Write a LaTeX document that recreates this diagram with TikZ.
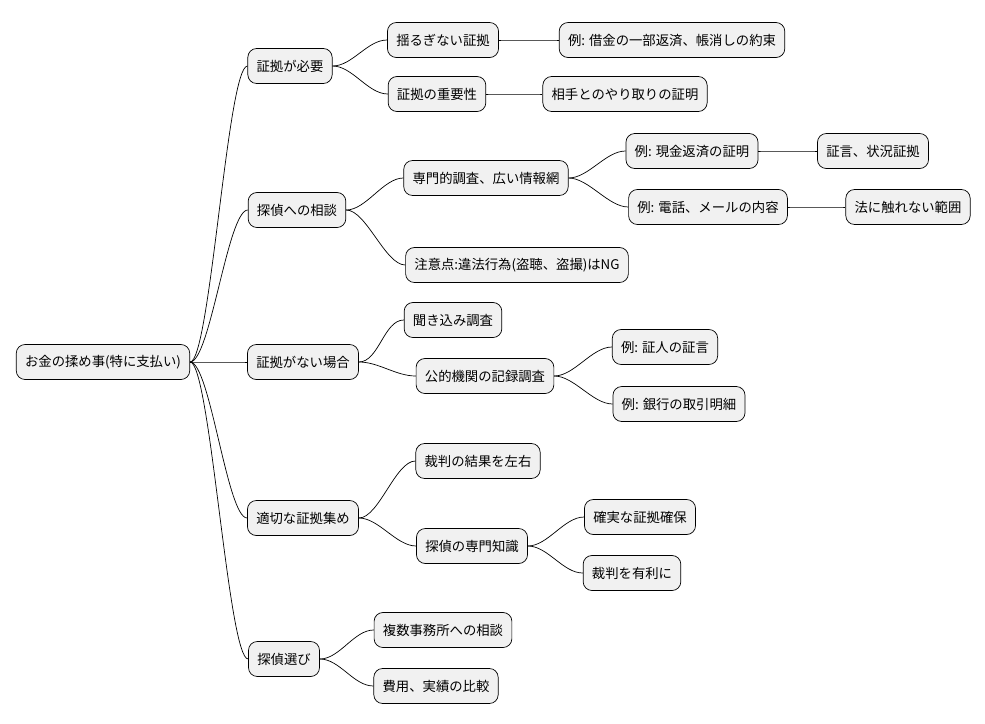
\documentclass[tikz,border=0pt]{standalone}
\usepackage{fontspec}
\setmainfont{Noto Sans CJK JP}
\definecolor{boxgray}{RGB}{241,241,241}
\begin{document}
\begin{tikzpicture}[x=0.02cm,y=-0.02cm,
  topic/.style={draw,fill=boxgray,rounded corners=5pt,minimum height=0.7cm,inner xsep=5pt,font=\fontsize{7.6}{9}\selectfont},
  branch/.style={to path={(\tikztostart) .. controls +(20,0) and +(-20,0) .. (\tikztotarget)}}]
\useasboundingbox (0,0) rectangle (985,724);
\node[topic] (root) at (103,362) {お金の揉め事(特に支払い)};
% level 1
\node[topic] (need) at (290,66) {証拠が必要};
\node[topic] (ask) at (297,210) {探偵への相談};
\node[topic] (none) at (303,362) {証拠がない場合};
\node[topic] (col) at (303,518) {適切な証拠集め};
\node[topic] (pick) at (284,659) {探偵選び};
% level 2
\node[topic] (firm) at (443,40) {揺るぎない証拠};
\node[topic] (imp) at (437,94) {証拠の重要性};
\node[topic] (pro) at (486,178) {専門的調査、広い情報網};
\node[topic] (warn) at (517,265) {注意点:違法行為(盗聴、盗撮)はNG};
\node[topic] (hear) at (453,320) {聞き込み調査};
\node[topic] (rec) at (485,376) {公的機関の記録調査};
\node[topic] (trial) at (478,461) {裁判の結果を左右};
\node[topic] (know) at (472,546) {探偵の専門知識};
\node[topic] (multi) at (443,630) {複数事務所への相談};
\node[topic] (cost) at (436,686) {費用、実績の比較};
% level 3
\node[topic] (ex1) at (672,40) {例: 借金の一部返済、帳消しの約束};
\node[topic] (prove) at (625,94) {相手とのやり取りの証明};
\node[topic] (ex2) at (692,151) {例: 現金返済の証明};
\node[topic] (ex3) at (708,207) {例: 電話、メールの内容};
\node[topic] (ex4) at (665,347) {例: 証人の証言};
\node[topic] (ex5) at (679,404) {例: 銀行の取引明細};
\node[topic] (sure) at (640,517) {確実な証拠確保};
\node[topic] (win) at (632,573) {裁判を有利に};
% level 4
\node[topic] (test) at (873,151) {証言、状況証拠};
\node[topic] (legal) at (908,207) {法に触れない範囲};
\foreach \a/\b in {root/need,root/ask,root/none,root/col,root/pick,
  need/firm,need/imp,ask/pro,ask/warn,none/hear,none/rec,col/trial,col/know,
  pick/multi,pick/cost,firm/ex1,imp/prove,pro/ex2,pro/ex3,rec/ex4,rec/ex5,
  know/sure,know/win,ex2/test,ex3/legal}
  \draw[thin] (\a.east) to[branch] (\b.west);
\end{tikzpicture}
\end{document}
